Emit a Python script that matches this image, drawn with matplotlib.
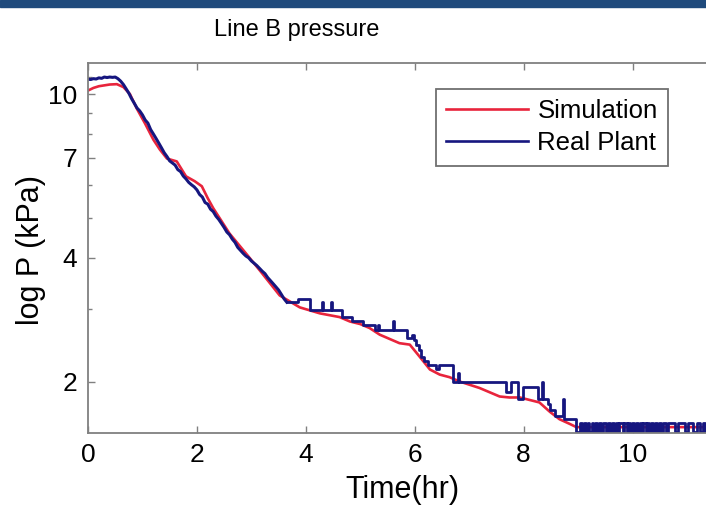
import matplotlib
matplotlib.use("Agg")
import matplotlib.pyplot as plt
from matplotlib.patches import Rectangle
from matplotlib.ticker import FixedLocator, NullFormatter

plt.rcParams['font.family'] = ['Liberation Sans', 'DejaVu Sans']

# Simulation (red)
sim_t = [0.0, 0.1, 0.2, 0.3, 0.4, 0.53, 0.65, 0.77, 0.9, 1.05, 1.2, 1.32, 1.45,
         1.63, 1.8, 1.96, 2.09, 2.2, 2.3, 2.6, 2.9, 3.16, 3.52, 3.89, 4.26, 4.62,
         4.81, 5.0, 5.17, 5.36, 5.72, 5.91, 6.09, 6.28, 6.46, 6.64, 6.83, 7.19,
         7.56, 7.74, 7.93, 8.29, 8.48, 8.66, 8.84, 8.97, 9.2, 10.0, 11.0, 12.0]
sim_p = [10.2, 10.35, 10.45, 10.5, 10.55, 10.57, 10.4, 10.0, 9.2, 8.47, 7.75, 7.33, 6.97,
         6.86, 6.31, 6.14, 5.97, 5.58, 5.28, 4.58, 4.1, 3.72, 3.24, 3.03, 2.93, 2.87,
         2.8, 2.76, 2.70, 2.6, 2.48, 2.46, 2.30, 2.14, 2.08, 2.05, 2.0, 1.93,
         1.84, 1.83, 1.83, 1.78, 1.69, 1.62, 1.58, 1.55, 1.55, 1.55, 1.55, 1.55]

# Real plant (blue): early, finely sampled part
real_t_early = [0.00, 0.05, 0.10, 0.15, 0.20, 0.25, 0.30, 0.35, 0.40, 0.45, 0.50,
                0.55, 0.60, 0.65, 0.70, 0.75, 0.80, 0.85, 0.90, 0.95, 1.00, 1.05,
                1.10, 1.15, 1.20, 1.25, 1.30, 1.35, 1.40, 1.45, 1.50, 1.55, 1.60,
                1.65, 1.70, 1.75, 1.80, 1.85, 1.90, 1.95, 2.00, 2.05, 2.10, 2.15,
                2.20, 2.25, 2.30, 2.35, 2.40, 2.45, 2.50, 2.55, 2.60, 2.65, 2.70,
                2.75, 2.80, 2.85, 2.90, 2.95, 3.00, 3.05, 3.10, 3.15, 3.20, 3.25,
                3.30, 3.35, 3.40, 3.45, 3.50, 3.55, 3.60, 3.65]
real_p_early = [10.87, 10.85, 10.9, 10.88, 10.95, 10.92, 11.0, 10.97, 11.0, 10.98, 11.0,
                10.9, 10.75, 10.55, 10.3, 10.05, 9.75, 9.5, 9.25, 9.1, 8.9, 8.65,
                8.5, 8.2, 8.0, 7.8, 7.6, 7.4, 7.2, 7.05, 6.88, 6.8, 6.72,
                6.55, 6.48, 6.32, 6.22, 6.1, 6.02, 5.95, 5.85, 5.7, 5.62, 5.45,
                5.4, 5.25, 5.18, 5.05, 4.96, 4.85, 4.74, 4.62, 4.55, 4.44, 4.36,
                4.24, 4.17, 4.1, 4.04, 4.0, 3.93, 3.88, 3.83, 3.77, 3.71, 3.66,
                3.58, 3.52, 3.46, 3.4, 3.34, 3.26, 3.18, 3.12]

# Real plant (blue): later, stepped part
real_t_step = [3.65, 3.85, 4.07, 4.30, 4.32, 4.46, 4.48, 4.66, 4.84, 5.05, 5.27,
               5.33, 5.35, 5.60, 5.62, 5.85, 5.95, 5.98, 6.02, 6.07, 6.12, 6.17, 6.24,
               6.40, 6.44, 6.70, 6.80, 6.82, 7.68, 7.77, 7.89, 7.98, 8.26, 8.33, 8.35,
               8.45, 8.48, 8.57, 8.72, 8.74,
               8.97, 9.04, 9.07, 9.11, 9.14, 9.18, 9.21, 9.25, 9.28, 9.32, 9.35, 9.39,
               9.42, 9.46, 9.52, 9.55, 9.59, 9.62, 9.66, 9.69, 9.73, 9.76, 9.82, 9.85,
               9.89, 9.92, 9.96, 9.99, 10.03, 10.06, 10.10, 10.13, 10.17, 10.20, 10.24,
               10.27, 10.31, 10.34, 10.38, 10.41, 10.45, 10.48, 10.52, 10.56, 10.62,
               10.66, 10.78, 10.83, 10.96, 11.02, 11.12, 11.18, 11.24, 11.30, 11.34,
               11.40, 12.0]
real_p_step = [3.12, 3.18, 2.99, 3.12, 2.99, 3.12, 2.99, 2.87, 2.81, 2.75, 2.67,
               2.75, 2.67, 2.81, 2.67, 2.56, 2.60, 2.52, 2.46, 2.39, 2.30, 2.25, 2.20,
               2.15, 2.20, 2.00, 2.10, 2.00, 1.89, 2.00, 1.81, 1.94, 1.81, 2.00, 1.81,
               1.76, 1.71, 1.65, 1.81, 1.62,
               1.51, 1.59, 1.51, 1.59, 1.51, 1.59, 1.51, 1.59, 1.51, 1.59, 1.51, 1.59,
               1.51, 1.59, 1.51, 1.59, 1.51, 1.59, 1.51, 1.59, 1.51, 1.59, 1.51, 1.59,
               1.51, 1.59, 1.51, 1.59, 1.51, 1.59, 1.51, 1.59, 1.51, 1.59, 1.51,
               1.59, 1.51, 1.59, 1.51, 1.59, 1.51, 1.59, 1.51, 1.59, 1.51,
               1.59, 1.51, 1.59, 1.51, 1.59, 1.51, 1.59, 1.51, 1.59, 1.51,
               1.59, 1.59]

ytick_major = [2, 4, 7, 10]
ytick_minor = [2, 3, 4, 5, 6, 7, 8, 9, 10, 11]
xtick_major = [0, 2, 4, 6, 8, 10]

W, H = 706, 507
fig = plt.figure(figsize=(W / 100, H / 100), dpi=100)
fig.patches.append(Rectangle((0, 1 - 7 / H), 1, 7 / H, transform=fig.transFigure,
                             color='#1f4a7c', zorder=0))

ax = fig.add_axes([88 / W, 1 - 433 / H, 12 * 54.45 / W, 370 / H])
blue = '#16167f'
ax.plot(sim_t, sim_p, color='#e8243c', lw=1.9, label='Simulation')
ax.plot(real_t_early, real_p_early, color=blue, lw=2.2, label='Real Plant')
ax.plot(real_t_step, real_p_step, color=blue, lw=2.0, drawstyle='steps-post')

ax.set_yscale('log')
ax.set_xlim(0, 12)
ax.set_ylim(1.5, 11.9)
ax.yaxis.set_major_locator(FixedLocator(ytick_major))
ax.yaxis.set_minor_locator(FixedLocator(ytick_minor))
ax.yaxis.set_minor_formatter(NullFormatter())
ax.set_yticklabels([str(v) for v in ytick_major])
ax.set_xticks(xtick_major)
ax.set_xticklabels([str(v) for v in xtick_major])

for s in ax.spines.values():
    s.set_color('#808080')
    s.set_linewidth(1.3)
ax.tick_params(which='both', direction='in', top=True, right=True, color='#808080',
               width=1.0, labelsize=19, labelcolor='black')
ax.tick_params(which='major', length=5)
ax.tick_params(which='minor', length=3)
ax.tick_params(axis='y', pad=8)
ax.tick_params(axis='x', pad=7)

leg = ax.legend(loc='upper right', bbox_to_anchor=(668 / W, 1 - 89 / H),
                bbox_transform=fig.transFigure, fontsize=18.5, frameon=True,
                fancybox=False, framealpha=1, edgecolor='#707070',
                handlelength=3.2, handletextpad=0.35, labelspacing=0.31,
                borderpad=0.4, borderaxespad=0)
leg.get_frame().set_linewidth(1.3)
for h in leg.get_lines():
    h.set_linewidth(1.9)

fig.text(297 / W, 1 - 30 / H, 'Line B pressure', ha='center', va='center', fontsize=17)
fig.text(31 / W, 1 - 250 / H, 'log P (kPa)', ha='center', va='center', rotation=90, fontsize=22)
fig.text(402 / W, 1 - 490 / H, 'Time(hr)', ha='center', va='center', fontsize=22)

fig.savefig('out.png', dpi=100)
